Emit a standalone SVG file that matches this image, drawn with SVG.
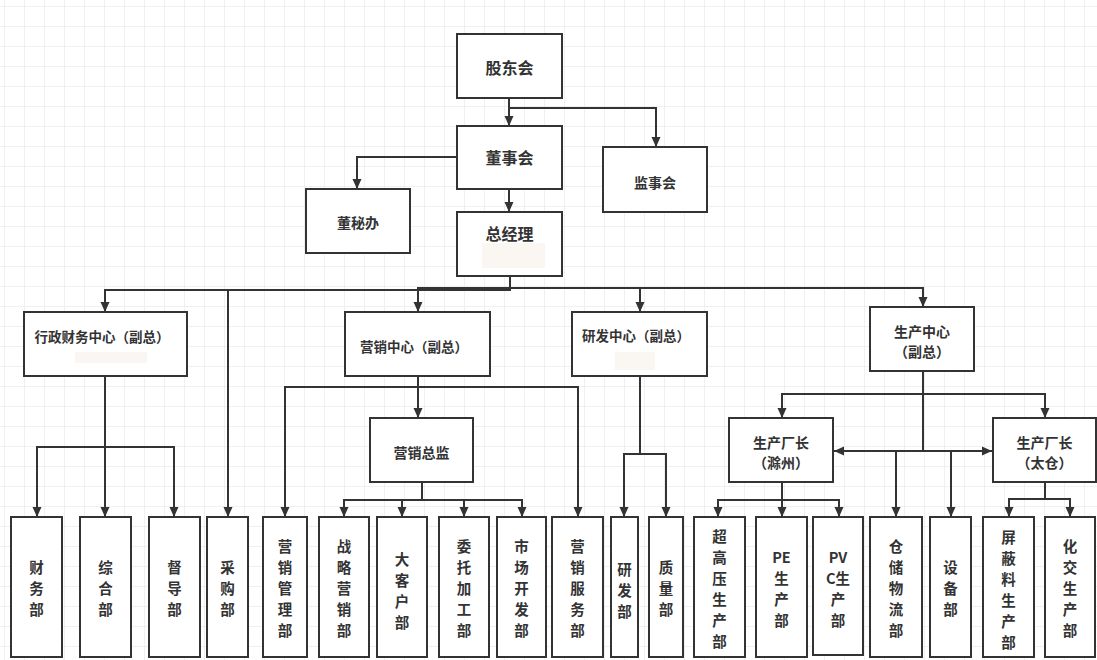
<svg xmlns="http://www.w3.org/2000/svg" width="1097" height="660" viewBox="0 0 1097 660">
<defs>
<pattern id="grid" width="20" height="20" patternUnits="userSpaceOnUse" x="4" y="6">
<path d="M20,0 H0 V20" fill="none" stroke="#e2e2e2" stroke-width="1"/>
</pattern>
<marker id="ah" viewBox="0 0 10 10" refX="10" refY="5" markerWidth="10" markerHeight="10" markerUnits="userSpaceOnUse" orient="auto">
<path d="M0,0.5 L10,5 L0,9.5 z" fill="#333"/>
</marker>
<style>
.box{fill:#fff;stroke:#333;stroke-width:2}
.faint{fill:#faf6f2;stroke:none}
.t{font-family:"Noto Sans CJK SC","Noto Sans",sans-serif;font-weight:bold;fill:#333;text-anchor:middle;dominant-baseline:central}
.t16{font-size:16px}
.t14{font-size:14px}
.t13{font-size:13.5px}
.lf{font-size:14.5px}
.c{fill:none;stroke:#333;stroke-width:2}
.a{marker-end:url(#ah)}
</style>
</defs>
<rect width="1097" height="660" fill="#fff"/>
<rect width="1097" height="660" fill="url(#grid)"/>

<g id="connectors">
<path class="c a" d="M509,98 V126"/>
<path class="c a" d="M509,108 H656 V147"/>
<path class="c a" d="M457,157 H357 V189"/>
<path class="c a" d="M509,189 V212"/>
<path class="c a" d="M510,276 V290 H105 V312"/>
<path class="c a" d="M510,288 H418 V312"/>
<path class="c a" d="M510,288 H923 V307"/>
<path class="c a" d="M640,288 V312"/>
<path class="c a" d="M228,290 V517"/>
<path class="c a" d="M105,376 V447 H37 V517"/>
<path class="c a" d="M105,447 V517"/>
<path class="c a" d="M105,447 H174 V517"/>
<path class="c a" d="M418,376 V418"/>
<path class="c a" d="M418,387 H285 V517"/>
<path class="c a" d="M418,387 H578 V517"/>
<path class="c a" d="M422,482 V500 H344 V517"/>
<path class="c a" d="M402,500 V517"/>
<path class="c a" d="M422,500 H464 V517"/>
<path class="c a" d="M464,500 H522 V517"/>
<path class="c a" d="M640,376 V454 H624 V517"/>
<path class="c a" d="M640,454 H666 V517"/>
<path class="c" d="M923,371 V451"/>
<path class="c a" d="M923,394 H782 V418"/>
<path class="c a" d="M923,394 H1045 V418"/>
<path class="c a" d="M923,451 H834"/>
<path class="c a" d="M923,451 H992"/>
<path class="c a" d="M923,451 H896 V517"/>
<path class="c a" d="M923,451 H951 V517"/>
<path class="c a" d="M782,482 V500 H718 V517"/>
<path class="c a" d="M782,500 V517"/>
<path class="c a" d="M782,500 H839 V517"/>
<path class="c a" d="M1045,482 V499 H1009 V517"/>
<path class="c a" d="M1045,499 H1070 V517"/>
</g>

<g id="n-gudonghui"><rect class="box" x="457" y="34" width="105" height="64"/><text class="t t16" x="509.5" y="67">股东会</text></g>
<g id="n-dongshihui"><rect class="box" x="457" y="126" width="105" height="63"/><text class="t t16" x="509.5" y="157">董事会</text></g>
<g id="n-jianshihui"><rect class="box" x="603" y="147" width="104" height="65"/><text class="t t14" x="655" y="182">监事会</text></g>
<g id="n-dongmiban"><rect class="box" x="306" y="189" width="104" height="64"/><text class="t t14" x="358" y="222">董秘办</text></g>
<g id="n-zongjingli"><rect class="box" x="457" y="212" width="105" height="64"/><rect class="faint" x="482" y="243" width="63" height="25"/><text class="t t16" x="509.5" y="233">总经理</text></g>

<g id="n-xingzheng"><rect class="box" x="24" y="312" width="163" height="64"/><rect class="faint" x="75" y="352" width="72" height="11"/><text class="t t13" x="102" y="336">行政财务中心（副总）</text></g>
<g id="n-yingxiao"><rect class="box" x="345" y="312" width="145" height="64"/><text class="t t13" x="414" y="346">营销中心（副总）</text></g>
<g id="n-yanfa"><rect class="box" x="572" y="312" width="135" height="64"/><rect class="faint" x="615" y="352" width="40" height="18"/><text class="t t13" x="636" y="335">研发中心（副总）</text></g>
<g id="n-shengchan"><rect class="box" x="870" y="307" width="104" height="64"/><text class="t t14" x="922" y="331">生产中心</text><text class="t t14" x="922" y="351">（副总）</text></g>

<g id="n-yingxiaozongjian"><rect class="box" x="370" y="418" width="103" height="64"/><text class="t t14" x="421.5" y="452">营销总监</text></g>
<g id="n-chuzhou"><rect class="box" x="729" y="418" width="104" height="64"/><text class="t t14" x="781" y="442">生产厂长</text><text class="t t14" x="781" y="462">（滁州）</text></g>
<g id="n-taicang"><rect class="box" x="993" y="418" width="103" height="64"/><text class="t t14" x="1044.5" y="442">生产厂长</text><text class="t t14" x="1044.5" y="462">（太仓）</text></g>

<g id="l-caiwu"><rect class="box" x="11" y="517" width="51" height="140"/><text class="t lf" x="36.5"><tspan x="36.5" y="566">财</tspan><tspan x="36.5" y="587">务</tspan><tspan x="36.5" y="608">部</tspan></text></g>
<g id="l-zonghe"><rect class="box" x="80" y="517" width="51" height="140"/><text class="t lf" x="105.5"><tspan x="105.5" y="566">综</tspan><tspan x="105.5" y="587">合</tspan><tspan x="105.5" y="608">部</tspan></text></g>
<g id="l-dudao"><rect class="box" x="149" y="517" width="51" height="140"/><text class="t lf" x="174.5"><tspan x="174.5" y="566">督</tspan><tspan x="174.5" y="587">导</tspan><tspan x="174.5" y="608">部</tspan></text></g>
<g id="l-caigou"><rect class="box" x="207" y="517" width="41" height="140"/><text class="t lf" x="227.5"><tspan x="227.5" y="566">采</tspan><tspan x="227.5" y="587">购</tspan><tspan x="227.5" y="608">部</tspan></text></g>
<g id="l-yxgl"><rect class="box" x="263" y="517" width="44" height="140"/><text class="t lf" x="285"><tspan x="285" y="545">营</tspan><tspan x="285" y="566">销</tspan><tspan x="285" y="587">管</tspan><tspan x="285" y="608">理</tspan><tspan x="285" y="629">部</tspan></text></g>
<g id="l-zlyx"><rect class="box" x="319" y="517" width="50" height="140"/><text class="t lf" x="344"><tspan x="344" y="545">战</tspan><tspan x="344" y="566">略</tspan><tspan x="344" y="587">营</tspan><tspan x="344" y="608">销</tspan><tspan x="344" y="629">部</tspan></text></g>
<g id="l-dakehu"><rect class="box" x="377" y="517" width="50" height="140"/><text class="t lf" x="402"><tspan x="402" y="558">大</tspan><tspan x="402" y="579">客</tspan><tspan x="402" y="600">户</tspan><tspan x="402" y="621">部</tspan></text></g>
<g id="l-weituo"><rect class="box" x="439" y="517" width="50" height="140"/><text class="t lf" x="464"><tspan x="464" y="545">委</tspan><tspan x="464" y="566">托</tspan><tspan x="464" y="587">加</tspan><tspan x="464" y="608">工</tspan><tspan x="464" y="629">部</tspan></text></g>
<g id="l-shichang"><rect class="box" x="497" y="517" width="49" height="140"/><text class="t lf" x="521.5"><tspan x="521.5" y="545">市</tspan><tspan x="521.5" y="566">场</tspan><tspan x="521.5" y="587">开</tspan><tspan x="521.5" y="608">发</tspan><tspan x="521.5" y="629">部</tspan></text></g>
<g id="l-yxfw"><rect class="box" x="552" y="517" width="51" height="140"/><text class="t lf" x="577.5"><tspan x="577.5" y="545">营</tspan><tspan x="577.5" y="566">销</tspan><tspan x="577.5" y="587">服</tspan><tspan x="577.5" y="608">务</tspan><tspan x="577.5" y="629">部</tspan></text></g>
<g id="l-yanfabu"><rect class="box" x="611" y="517" width="27" height="140"/><text class="t lf" x="624.5"><tspan x="624.5" y="568">研</tspan><tspan x="624.5" y="589">发</tspan><tspan x="624.5" y="610">部</tspan></text></g>
<g id="l-zhiliang"><rect class="box" x="649" y="517" width="34" height="140"/><text class="t lf" x="666"><tspan x="666" y="566">质</tspan><tspan x="666" y="587">量</tspan><tspan x="666" y="608">部</tspan></text></g>
<g id="l-chaogaoya"><rect class="box" x="694" y="517" width="51" height="140"/><text class="t lf" x="719.5"><tspan x="719.5" y="535">超</tspan><tspan x="719.5" y="556">高</tspan><tspan x="719.5" y="577">压</tspan><tspan x="719.5" y="598">生</tspan><tspan x="719.5" y="619">产</tspan><tspan x="719.5" y="640">部</tspan></text></g>
<g id="l-pe"><rect class="box" x="756" y="517" width="51" height="140"/><text class="t lf" x="781.5"><tspan x="781.5" y="556">PE</tspan><tspan x="781.5" y="577">生</tspan><tspan x="781.5" y="598">产</tspan><tspan x="781.5" y="619">部</tspan></text></g>
<g id="l-pvc"><rect class="box" x="813" y="517" width="50" height="138"/><text class="t lf" x="838"><tspan x="838" y="556">PV</tspan><tspan x="838" y="577">C生</tspan><tspan x="838" y="598">产</tspan><tspan x="838" y="619">部</tspan></text></g>
<g id="l-cangchu"><rect class="box" x="870" y="517" width="52" height="140"/><text class="t lf" x="896"><tspan x="896" y="545">仓</tspan><tspan x="896" y="566">储</tspan><tspan x="896" y="587">物</tspan><tspan x="896" y="608">流</tspan><tspan x="896" y="629">部</tspan></text></g>
<g id="l-shebei"><rect class="box" x="930" y="517" width="41" height="140"/><text class="t lf" x="950.5"><tspan x="950.5" y="566">设</tspan><tspan x="950.5" y="587">备</tspan><tspan x="950.5" y="608">部</tspan></text></g>
<g id="l-pingbi"><rect class="box" x="983" y="517" width="51" height="140"/><text class="t lf" x="1008.5"><tspan x="1008.5" y="536">屏</tspan><tspan x="1008.5" y="557">蔽</tspan><tspan x="1008.5" y="578">料</tspan><tspan x="1008.5" y="599">生</tspan><tspan x="1008.5" y="620">产</tspan><tspan x="1008.5" y="641">部</tspan></text></g>
<g id="l-huajiao"><rect class="box" x="1045" y="517" width="50" height="140"/><text class="t lf" x="1070"><tspan x="1070" y="545">化</tspan><tspan x="1070" y="566">交</tspan><tspan x="1070" y="587">生</tspan><tspan x="1070" y="608">产</tspan><tspan x="1070" y="629">部</tspan></text></g>
</svg>
